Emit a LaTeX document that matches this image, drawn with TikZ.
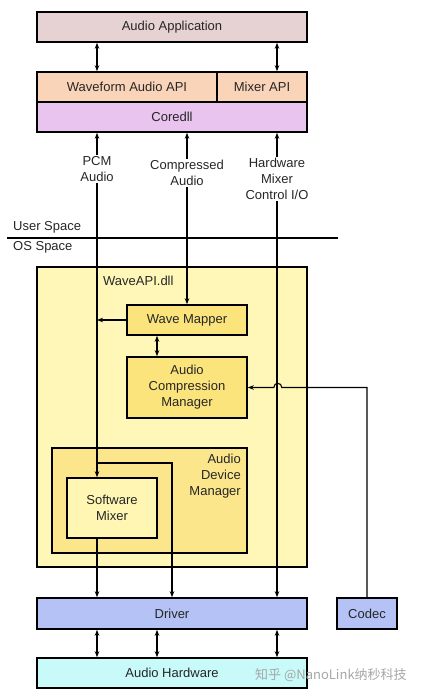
\documentclass[tikz,border=0pt]{standalone}
\usepackage{fontspec}
\setmainfont{Liberation Sans}
\newfontfamily\cjk{Noto Sans CJK SC}
\usetikzlibrary{arrows.meta}
\definecolor{appc}{HTML}{E6D2D2}
\definecolor{apic}{HTML}{FAD4B8}
\definecolor{corec}{HTML}{E8C4EE}
\definecolor{dllc}{HTML}{FFF7B8}
\definecolor{mapc}{HTML}{FCE47C}
\definecolor{admc}{HTML}{FCE68C}
\definecolor{mixc}{HTML}{FFF6B4}
\definecolor{drvc}{HTML}{B4C2F5}
\definecolor{hwc}{HTML}{C8FAFA}

\begin{document}
\begin{tikzpicture}[x=1pt, y=-1pt,
    every node/.style={font=\fontsize{13pt}{16pt}\selectfont, text=black!85},
    blk/.style={draw, line width=1.6pt, inner sep=0pt, align=center},
    lbl/.style={align=center, inner sep=1pt},
    wire/.style={line width=1.1pt},
    >={Stealth[length=6pt, width=4.5pt]}]
  \useasboundingbox (0,0) rectangle (422,695);

  % user side blocks
  \node[blk, fill=appc, minimum width=270pt, minimum height=30pt] (app) at (172,27) {Audio Application};
  \node[blk, fill=apic, minimum width=180pt, minimum height=30pt] (wapi) at (127,87) {Waveform Audio API};
  \node[blk, fill=apic, minimum width=90pt, minimum height=30pt] (mapi) at (262,87) {Mixer API};
  \node[blk, fill=corec, minimum width=270pt, minimum height=30pt] (core) at (172,117) {Coredll};

  % stream labels
  \node[lbl] (pcm) at (97,169) {PCM\\Audio};
  \node[lbl] (comp) at (187,173) {Compressed\\Audio};
  \node[lbl] (hwmix) at (277,179) {Hardware\\Mixer\\Control I/O};

  % user / os boundary
  \coordinate (bndl) at (7,238);
  \coordinate (bndr) at (338,238);
  \draw[line width=1.2pt] (bndl) -- (bndr);
  \node[anchor=west, inner sep=0pt] (user) at (13,227) {User Space};
  \node[anchor=west, inner sep=0pt] (os) at (13,247) {OS Space};

  % os side blocks
  \node[blk, fill=dllc, minimum width=270pt, minimum height=300pt] (dll) at (172,417) {};
  \node[anchor=west, inner sep=0pt] (dlltxt) at (103,281) {WaveAPI.dll};
  \node[blk, fill=mapc, minimum width=120pt, minimum height=30pt] (mapper) at (187,320) {Wave Mapper};
  \node[blk, fill=mapc, minimum width=120pt, minimum height=61pt] (acm) at (187,387.5) {Audio\\Compression\\Manager};
  \node[blk, fill=admc, minimum width=195pt, minimum height=105pt] (adm) at (149.5,500.5) {};
  \node[anchor=north east, align=right, inner sep=0pt] (admtxt) at (241,454) {Audio\\Device\\Manager};
  \node[blk, fill=mixc, minimum width=90pt, minimum height=60pt] (mixer) at (112,508) {Software\\Mixer};
  \node[blk, fill=drvc, minimum width=270pt, minimum height=31pt] (drv) at (172,613.5) {Driver};
  \node[blk, fill=drvc, minimum width=60pt, minimum height=31pt] (codec) at (367,613.5) {Codec};
  \node[blk, fill=hwc, minimum width=270pt, minimum height=30pt] (hw) at (172,673) {Audio Hardware};

  % connectors
  \foreach \s in {pcm,hwmix}
    \draw[wire, <->] (app.south -| \s) -- (wapi.north -| \s);
  \foreach \s in {pcm,comp,hwmix}
    \draw[wire, ->] (\s.north) -- (core.south -| \s);
  \draw[wire, ->] (pcm.south) -- (mixer.north -| pcm);
  \draw[wire, ->] (comp.south) -- (mapper.north);
  \draw[wire, ->] (hwmix.south) -- (drv.north -| hwmix);
  \draw[wire, ->] (mapper.west) -- (mapper.west -| pcm);
  \draw[wire, <->] ([xshift=-30pt]mapper.south) -- ([xshift=-30pt]acm.north);
  \coordinate (split) at (97,463);
  \draw[wire, ->] (split) -| (drv.north);
  \draw[wire, ->] (mixer.south -| pcm) -- (drv.north -| pcm);
  \coordinate (hopr) at ([xshift=34pt]acm.east);
  \coordinate (hopl) at ([xshift=26pt]acm.east);
  \draw[wire, ->] (codec.north) |- (hopr) .. controls +(0,-5.5) and +(0,-5.5) .. (hopl) -- (acm.east);
  \foreach \dx in {-75,-15,105}
    \draw[wire, <->] ([xshift=\dx pt]drv.south) -- ([xshift=\dx pt]hw.north);

  % watermark
  \node[anchor=west, inner sep=0pt, text=black!35, font=\cjk\fontsize{13pt}{16pt}\selectfont] (mark) at (255,675) {知乎 @NanoLink纳秒科技};
\end{tikzpicture}
\end{document}
